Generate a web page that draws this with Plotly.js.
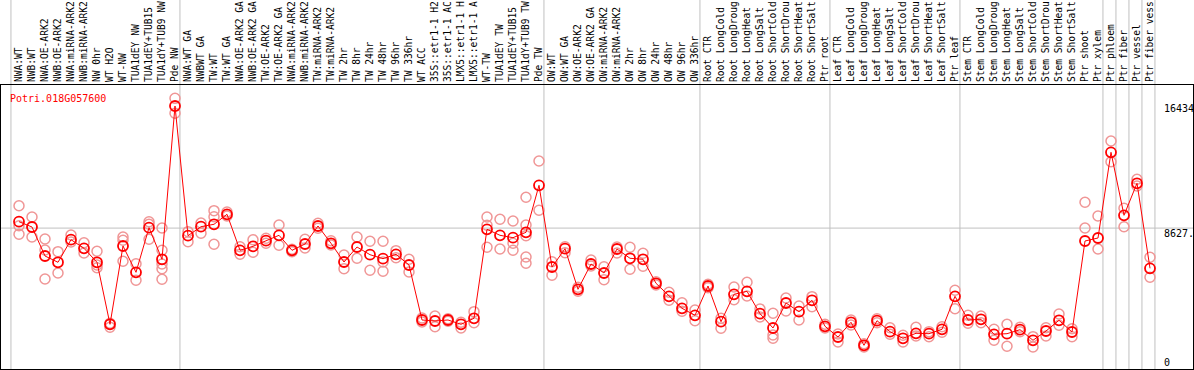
<!DOCTYPE html>
<html>
<head>
<meta charset="utf-8">
<script src="https://cdn.plot.ly/plotly-3.0.1.min.js"></script>
<style>html,body{margin:0;padding:0;background:#fff;}#chart{width:1194px;height:370px;}</style>
</head>
<body>
<div id="chart"></div>
<script>
const geneName = "Potri.018G057600";
const categories = [
 "NWA:WT","NWB:WT","NWA:OE-ARK2","NWB:OE-ARK2","NWA:miRNA-ARK2","NWB:miRNA-ARK2","NW 0hr","WT H2O","WT-NW","TUA1dEY NW","TUA1dEY+TUB15","TUA1dY+TUB9 NW","Pde NW",
 "NWA:WT GA","NWBWT GA","TW:WT","TW:WT GA","NWA:OE-ARK2 GA","NWB:OE-ARK2 GA","TW:OE-ARK2","TW:OE-ARK2 GA","NWA:miRNA-ARK2","NWB:miRNA-ARK2","TW:miRNA-ARK2","TW:miRNA-ARK2","TW 2hr","TW 8hr","TW 24hr","TW 48hr","TW 96hr","TW 336hr","WT ACC","35S::etr1-1 H2","35S::etr1-1 AC","LMX5::etr1-1 H","LMX5::etr1-1 A","WT-TW","TUA1dEY TW","TUA1dEY+TUB15","TUA1dY+TUB9 TW","Pde TW",
 "OW:WT","OW:WT GA","OW:OE-ARK2","OW:OE-ARK2 GA","OW:miRNA-ARK2","OW:miRNA-ARK2","OW 2hr","OW 8hr","OW 24hr","OW 48hr","OW 96hr","OW 336hr",
 "Root CTR","Root LongCold","Root LongDroug","Root LongHeat","Root LongSalt","Root ShortCold","Root ShortDrou","Root ShortHeat","Root ShortSalt","Ptr root",
 "Leaf CTR","Leaf LongCold","Leaf LongDroug","Leaf LongHeat","Leaf LongSalt","Leaf ShortCold","Leaf ShortDrou","Leaf ShortHeat","Leaf ShortSalt","Ptr leaf",
 "Stem CTR","Stem LongCold","Stem LongDroug","Stem LongHeat","Stem LongSalt","Stem ShortCold","Stem ShortDrou","Stem ShortHeat","Stem ShortSalt","Ptr shoot",
 "Ptr xylem","Ptr phloem","Ptr fiber","Ptr vessel","Ptr fiber vess"
];
const meanValues = [
 9036,8697,6843,6440,7885,7335,6440,2475,7482,5800,
 8652,6632,16434,8141,8716,8870,9509,7207,7463,7821,
 8166,7207,7610,8761,7655,6459,7418,6926,6670,6951,
 6267,2750,2686,2750,2475,2859,8550,8166,8013,8358,
 11364,6139,7309,4713,6331,5756,7290,6696,6632,5097,
 4265,3498,3050,4924,2641,4393,4585,3153,2238,3837,
 3281,4010,2347,1663,2603,1132,2705,2002,1580,1899,
 1874,2155,4265,2750,2795,1835,1874,2130,1452,2046,
 2731,1982,7802,7994,13474,9445,11492,6056
];
const rep1 = [
 10059,9337,7930,7118,8186,7693,7143,2539,8058,6350,
 9036,8633,16927,8397,8953,9740,9656,7437,7885,7975,
 8825,7271,7911,8934,7821,6907,8058,7783,7783,7182,
 6632,2878,3006,2833,2603,3281,9337,9190,9081,10597,
 12918,6478,7437,4841,6587,6158,7418,7399,7015,5199,
 4521,3856,3389,5033,2859,4860,5161,3453,3178,4157,
 3645,4240,2475,1855,2750,1234,2833,2257,1771,2283,
 2002,2321,4649,3050,3006,2155,2475,2283,1682,2257,
 3134,2193,10277,9401,14197,9893,11748,6760
];
const rep2 = [
 8780,8058,7226,5756,7738,7035,6267,2283,7847,5289,
 8870,7207,15968,7757,8294,9356,9401,6951,7079,7655,
 7527,7118,7354,8614,7546,6030,6696,5928,6459,6734,
 5819,2622,2321,2667,2238,2577,8806,7290,7655,8825,
 9765,5608,7054,4585,6203,5327,7035,5992,6184,4988,
 4010,3306,2705,4815,2219,4048,4285,2942,1791,3325,
 2750,3600,2238,1343,2430,1023,2577,1835,1343,1727,
 1682,1963,3472,2539,2577,1452,1068,2002,1023,1727,
 2411,1682,8633,7290,12873,8716,11319,5480
];
const rep3 = [
 8230,null,5372,null,null,null,6094,null,6504,null,
 7911,6331,null,null,null,7591,null,null,null,null,
 null,null,null,null,null,null,null,null,5864,null,
 null,null,null,null,null,null,7399,null,7207,8141,
 null,null,null,null,null,null,null,null,null,null,
 null,null,null,null,null,null,null,null,1580,null,
 null,null,null,null,null,null,null,null,null,null,
 null,null,null,null,null,null,null,null,null,null,
 null,null,null,null,null,null,null,null
];
const rep4 = categories.map((c,i)=> i===11 ? 6030 : (i===39 ? 6779 : null));
const rep5 = categories.map((c,i)=> i===11 ? 5353 : (i===39 ? 6376 : null));
const groupEnds = [-1,12,40,52,62,72,83,84,85,86,87];
const yLabelValues = [16434, 8627, 0];
const yLabelTexts = ["16434", "8627.", "0"];
const refLineValue = 8627;

const xIdx = categories.map((c,i)=>i);
const repColor = "rgb(240,150,150)";
const mainColor = "#ff0000";
const mono = "DejaVu Sans Mono";

function repTrace(vals){
  return {x:xIdx, y:vals, type:"scatter", mode:"markers", hoverinfo:"skip",
    marker:{symbol:"circle-open", size:10, color:repColor, line:{width:1.5, color:repColor}}};
}
const traces = [rep1,rep2,rep3,rep4,rep5].map(repTrace);
traces.push({x:xIdx, y:meanValues, type:"scatter", mode:"lines+markers", hoverinfo:"skip",
  line:{color:mainColor, width:1},
  marker:{symbol:"circle-open", size:10, color:mainColor, line:{width:1.8, color:mainColor}}});

const shapes = groupEnds.map(g => ({type:"line", xref:"x", yref:"paper", x0:g+0.38, x1:g+0.38,
  y0:0, y1:1.31, line:{color:"#c0c0c0", width:1}, layer:"below"}));
shapes.push({type:"line", xref:"paper", yref:"y", x0:0, x1:1, y0:refLineValue, y1:refLineValue,
  line:{color:"#c0c0c0", width:1}, layer:"below"});

const yShifts = [-2, -5, 1];
const annotations = yLabelValues.map((v,k)=>({xref:"x", yref:"y", x:88, y:v, text:yLabelTexts[k],
  xanchor:"left", yanchor:"middle", showarrow:false, borderpad:0, yshift:yShifts[k],
  font:{family:mono, size:10, color:"#000"}}));
annotations.push({xref:"paper", yref:"paper", x:0.0067, y:0.952, text:geneName, xanchor:"left",
  yanchor:"middle", showarrow:false, borderpad:0, font:{family:mono, size:10, color:mainColor}});

const layout = {
  width:1194, height:370, showlegend:false,
  margin:{l:1, r:1, t:85, b:1, pad:0},
  paper_bgcolor:"#fff", plot_bgcolor:"#fff",
  font:{family:mono, size:10, color:"#000"},
  xaxis:{range:[-1.385, 90.308], side:"top", tickmode:"array", tickvals:xIdx, ticktext:categories,
    tickangle:-90, ticks:"", showgrid:false, zeroline:false, showline:true, mirror:true,
    linecolor:"#000", linewidth:1, tickfont:{family:mono, size:9.6, color:"#000"}, fixedrange:true},
  yaxis:{range:[-384, 17778], showticklabels:false, ticks:"", showgrid:false, zeroline:false,
    showline:true, mirror:true, linecolor:"#000", linewidth:1, fixedrange:true},
  shapes:shapes, annotations:annotations
};
Plotly.newPlot("chart", traces, layout, {staticPlot:true, displayModeBar:false});
</script>
</body>
</html>
